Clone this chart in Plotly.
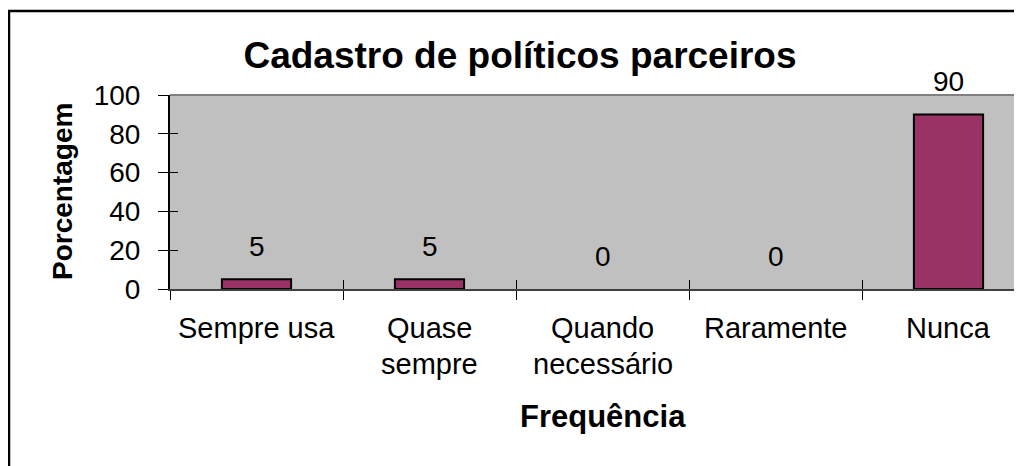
import plotly.graph_objects as go

categories = ["Sempre usa", "Quase\nsempre", "Quando\nnecessário", "Raramente", "Nunca"]
values = [5, 5, 0, 0, 90]
y_ticks = [0, 20, 40, 60, 80, 100]

title_text = "Cadastro de políticos parceiros"
x_title = "Frequência"
y_title = "Porcentagem"

FONT = "Liberation Sans, Arial, sans-serif"
OFF = 8  # page body margin
W, H = 1022 - OFF, 466 - OFF
L, T = 170 - OFF, 95 - OFF
B = H - (289 - OFF)
plot_w = W - L
plot_h = H - T - B
cat_px = 173.0
x_end = -0.5 + plot_w / cat_px

xs = list(range(len(categories)))
bounds = [i - 0.5 for i in range(len(categories) + 1)]

fig = go.Figure()
fig.add_trace(go.Bar(
    x=xs, y=values, width=0.4,
    marker=dict(color="#993366",
                line=dict(color="black", width=[2 if v > 0 else 0 for v in values])),
    hoverinfo="skip",
))
fig.add_trace(go.Scatter(x=[None], y=[None], xaxis="x2", yaxis="y2", showlegend=False))

annotations = []
for i, v in zip(xs, values):
    annotations.append(dict(
        x=i, y=v, xref="x", yref="y", text=str(v), showarrow=False,
        yanchor="bottom", yshift=15, font=dict(family=FONT, size=28, color="black"),
    ))
for i, lab in zip(xs, categories):
    for j, line in enumerate(lab.split("\n")):
        annotations.append(dict(
            x=i, y=0, xref="x", yref="paper", text=line, showarrow=False,
            yanchor="middle", yshift=-(39 + 36 * j),
            font=dict(family=FONT, size=29, color="black"),
        ))
annotations.append(dict(
    x=2, y=0, xref="x", yref="paper", text="<b>" + x_title + "</b>", showarrow=False,
    yanchor="middle", yshift=-127, font=dict(family=FONT, size=31, color="black"),
))
annotations.append(dict(
    x=(62 - OFF - L) / plot_w, y=0.5, xref="paper", yref="paper", text="<b>" + y_title + "</b>",
    showarrow=False, textangle=-90, xanchor="center", yanchor="middle",
    font=dict(family=FONT, size=28, color="black"),
))

shapes = [
    dict(type="line", xref="paper", yref="paper", x0=0, x1=1.05, y0=1, y1=1,
         line=dict(color="#808080", width=2)),
    dict(type="rect", xref="paper", yref="paper",
         x0=(9 - OFF - L) / plot_w, x1=(1040 - OFF - L) / plot_w,
         y0=-(490 - (289)) / plot_h, y1=(289 - 11) / plot_h,
         line=dict(color="black", width=2.5), layer="below"),
]

fig.update_layout(
    width=W, height=H,
    margin=dict(l=L, r=0, t=T, b=B, pad=0),
    paper_bgcolor="white", plot_bgcolor="#C0C0C0",
    showlegend=False,
    title=dict(text="<b>" + title_text + "</b>", x=(520 - OFF) / W, xanchor="center",
               y=1 - (55 - OFF) / H, yanchor="middle",
               font=dict(family=FONT, size=37, color="black")),
    xaxis=dict(range=[-0.5, x_end], tickmode="array", tickvals=bounds, ticktext=[""] * len(bounds),
               ticks="outside", ticklen=9, tickcolor="black", tickwidth=1,
               showline=True, linecolor="#404040", linewidth=2, showgrid=False, zeroline=False,
               fixedrange=True),
    xaxis2=dict(overlaying="x", range=[-0.5, x_end], tickmode="array", tickvals=bounds,
                ticktext=[""] * len(bounds), ticks="inside", ticklen=9,
                tickcolor="black", tickwidth=1, showline=False, showgrid=False, zeroline=False,
                side="bottom"),
    yaxis=dict(range=[0, 100], tickmode="array", tickvals=y_ticks,
               ticks="outside", ticklen=10, tickcolor="black", tickwidth=1,
               ticklabelstandoff=12,
               tickfont=dict(family=FONT, size=28, color="black"),
               showline=True, linecolor="black", linewidth=2, showgrid=False, zeroline=False),
    yaxis2=dict(overlaying="y", range=[0, 100], tickmode="array", tickvals=y_ticks,
                ticktext=[""] * len(y_ticks), ticks="inside", ticklen=8, tickcolor="black",
                tickwidth=1, showline=False, showgrid=False, zeroline=False, side="left"),
    annotations=annotations,
    shapes=shapes,
)

fig.write_html("out.html", config={"displayModeBar": False})
